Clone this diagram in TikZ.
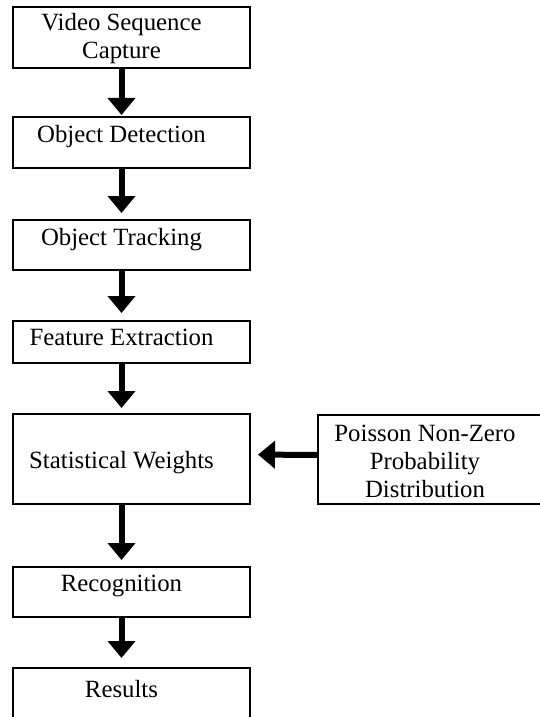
\documentclass[tikz,border=0pt]{standalone}
\usepackage{fontspec}
\setmainfont{Liberation Serif}
\usetikzlibrary{arrows.meta}

\begin{document}
\begin{tikzpicture}[x=0.5pt, y=-0.5pt,
    box/.style={rectangle, draw, line width=1pt, minimum width=118.5pt, inner sep=0pt, outer sep=0pt},
    txt/.style={inner sep=0pt, align=center, font=\fontsize{12.4}{14}\selectfont},
    flow/.style={line width=3pt, -{Triangle[length=8.5pt, width=13.5pt]}}]

    \useasboundingbox (0,0) rectangle (540,717);

    % Boxes of the main chain
    \node[box, minimum height=30.5pt] (b1) at (131.5, 37.5) {};
    \node[box, minimum height=25.5pt] (b2) at (131.5, 142.5) {};
    \node[box, minimum height=25pt] (b3) at (131.5, 245) {};
    \node[box, minimum height=21pt] (b4) at (131.5, 342) {};
    \node[box, minimum height=45pt] (b5) at (131.5, 459) {};
    \node[box, minimum height=25pt] (b6) at (131.5, 592) {};
    \node[box, minimum height=36pt] (b7) at (131.5, 704) {}; % runs off the bottom edge
    \node[box, minimum width=121pt, minimum height=44.5pt] (p) at (439, 459.5) {}; % runs off the right edge
    % Texts
    \node[txt] (t1) at (121.5, 39) {Video Sequence\\Capture};
    \node[txt] (t2) at (121.5, 137) {Object Detection};
    \node[txt] (t3) at (121.5, 240) {Object Tracking};
    \node[txt] (t4) at (121.5, 337) {Feature Extraction};
    \node[txt] (t5) at (121.5, 463) {Statistical Weights};
    \node[txt] (t6) at (121.5, 586) {Recognition};
    \node[txt] (t7) at (121.5, 689) {Results};
    \node[txt] (tp) at (425, 461) {Poisson Non-Zero\\Probability\\Distribution};
    % Arrows down the chain
    \draw[flow, shorten >=1pt] (b1.south -| t1) -- (b2.north -| t1); % capture to detection
    \draw[flow, shorten >=3.5pt] (b2.south -| t2) -- (b3.north -| t2); % detection to tracking
    \draw[flow, shorten >=4pt] (b3.south -| t3) -- (b4.north -| t3); % tracking to features
    \draw[flow, shorten >=3pt] (b4.south -| t4) -- (b5.north -| t4); % features to weights
    \draw[flow, shorten >=3.5pt] (b5.south -| t5) -- (b6.north -| t5); % weights to recognition
    \draw[flow, shorten >=5pt] (b6.south -| t6) -- (b7.north -| t6); % recognition to results
    % Side input
    \draw[flow, shorten >=4pt] ([yshift=2.25pt]p.west) -- ([yshift=2.25pt]b5.east); % Poisson into weights
\end{tikzpicture}
\end{document}
